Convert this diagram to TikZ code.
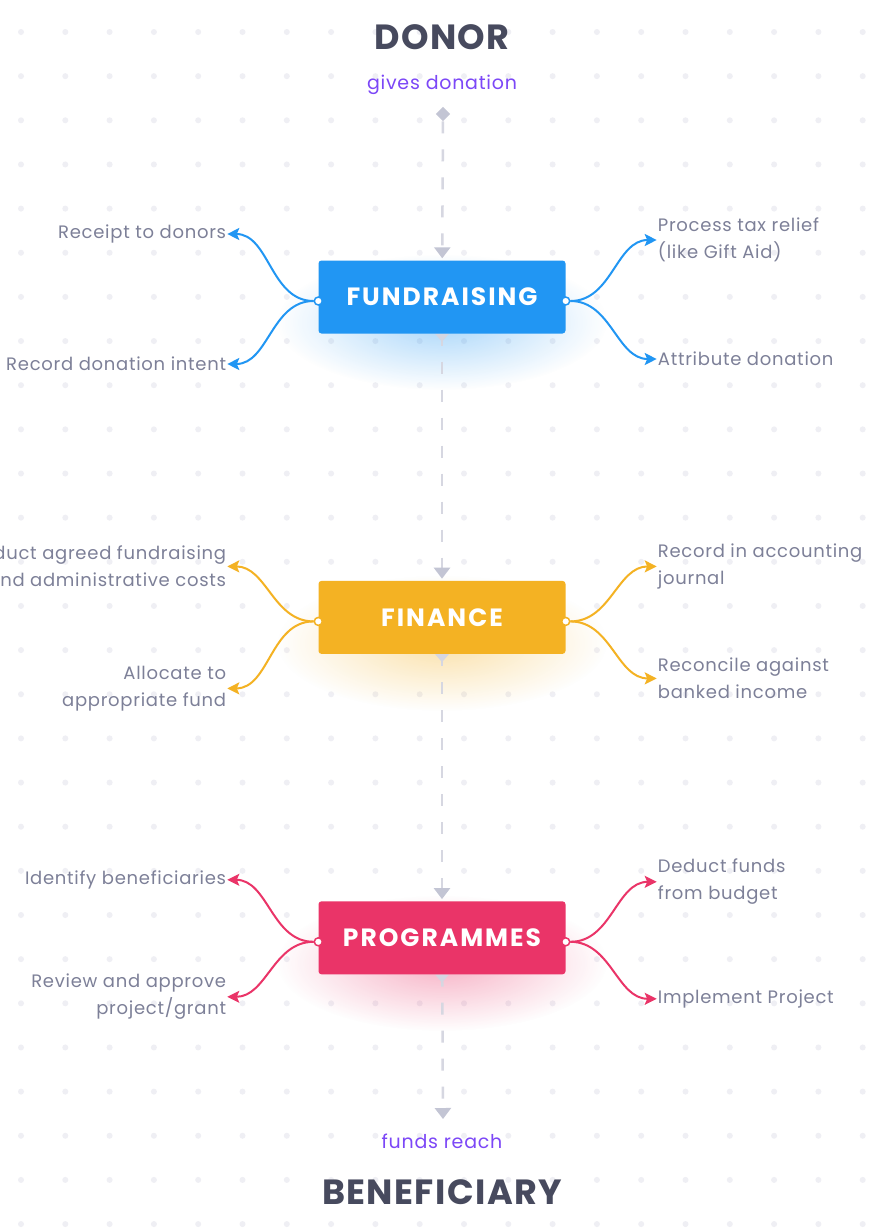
\documentclass[tikz,border=0pt]{standalone}
\usepackage{fontspec}
\setmainfont{Poppins}
\newfontfamily\widefont[LetterSpace=8]{Poppins}
\newfontfamily\spacedfont[LetterSpace=4]{Poppins}
\usetikzlibrary{arrows,arrows.meta,positioning,fadings,backgrounds}

\definecolor{fundblue}{HTML}{2196F3}
\definecolor{finamber}{HTML}{F4B223}
\definecolor{progpink}{HTML}{EA3468}
\definecolor{titlegray}{HTML}{474A5E}
\definecolor{labelgray}{HTML}{7D8098}
\definecolor{flowpurple}{HTML}{7C47F7}
\definecolor{flowgray}{HTML}{D6D7E1}
\definecolor{tipgray}{HTML}{C3C5D4}
\definecolor{dotgray}{HTML}{EFEFF4}

\tikzfading[name=glowfade, inner color=transparent!62, outer color=transparent!100]

\begin{document}
\begin{tikzpicture}[x=1pt,y=-1pt,>={Stealth[length=12pt,width=12pt,inset=2.5pt]},
    every node/.style={inner sep=0pt},
    stage/.style={rectangle,rounded corners=3pt,minimum width=247pt,
                  minimum height=73pt,text=white,
                  font=\widefont\fontsize{25}{25}\selectfont\bfseries},
    actor/.style={text=titlegray,font=\spacedfont\fontsize{35}{35}\selectfont\bfseries},
    flowtext/.style={text=flowpurple,font=\spacedfont\fontsize{19}{19}\selectfont},
    task/.style={text=labelgray,font=\spacedfont\fontsize{18}{27}\selectfont},
    branch/.style={->,line width=2pt,shorten >=1pt},
    flow/.style={draw=flowgray,line width=2.5pt,dash pattern=on 12pt off 16pt,
                 -{Triangle[width=16pt,length=11pt,color=tipgray]},shorten >=2pt},
    port/.style={circle,fill=white,line width=1.5pt,minimum size=8pt}]
  \useasboundingbox (0,0) rectangle (886,1229);

  \node[actor]    (donor) at (442,37)  {DONOR};
  \node[flowtext] (gives) at (442,85)  {gives donation};
  \node[fill=tipgray,minimum size=10pt,rotate=45] (start) at (443,114) {};

  \node[stage,fill=fundblue]                     (fund) at (442,297) {FUNDRAISING};
  \node[stage,fill=finamber,below=247pt of fund] (fin)                {FINANCE};
  \node[stage,fill=progpink,below=247pt of fin]  (prog)               {PROGRAMMES};

  \coordinate (end) at (443,1121);
  \node[flowtext] (reach) at (442,1141) {funds reach};
  \node[actor]    (benef) at (442,1192) {BENEFICIARY};

  % ports on the boxes
  \node[port,draw=fundblue] (fundL) at ([yshift=-4pt]fund.west) {};
  \node[port,draw=fundblue] (fundR) at ([yshift=-4pt]fund.east) {};
  \node[port,draw=finamber] (finL)  at ([yshift=-4pt]fin.west)  {};
  \node[port,draw=finamber] (finR)  at ([yshift=-4pt]fin.east)  {};
  \node[port,draw=progpink] (progL) at ([yshift=-4pt]prog.west) {};
  \node[port,draw=progpink] (progR) at ([yshift=-4pt]prog.east) {};

  % fundraising tasks
  \node[task,anchor=east,align=right] (receipt)   at ([shift={(-92,-67)}]fundL.center) {Receipt to donors};
  \node[task,anchor=east,align=right] (intent)    at ([shift={(-92,63)}]fundL.center)  {Record donation intent};
  \node[task,anchor=west,align=left]  (taxrelief) at ([shift={(92,-61)}]fundR.center)  {Process tax relief\\(like Gift Aid)};
  \node[task,anchor=west,align=left]  (attribute) at ([shift={(92,58)}]fundR.center)   {Attribute donation};

  % finance tasks
  \node[task,anchor=east,align=right] (deduct)    at ([shift={(-92,-55)}]finL.center) {Deduct agreed fundraising\\and administrative costs};
  \node[task,anchor=east,align=right] (allocate)  at ([shift={(-92,67)}]finL.center)  {Allocate to\\appropriate fund};
  \node[task,anchor=west,align=left]  (journal)   at ([shift={(92,-55)}]finR.center)  {Record in accounting\\journal};
  \node[task,anchor=west,align=left]  (reconcile) at ([shift={(92,57)}]finR.center)   {Reconcile against\\banked income};

  % programme tasks
  \node[task,anchor=east,align=right] (identify)  at ([shift={(-92,-62)}]progL.center) {Identify beneficiaries};
  \node[task,anchor=east,align=right] (review)    at ([shift={(-92,55)}]progL.center)  {Review and approve\\project/grant};
  \node[task,anchor=west,align=left]  (budget)    at ([shift={(92,-60)}]progR.center)  {Deduct funds\\from budget};
  \node[task,anchor=west,align=left]  (implement) at ([shift={(92,57)}]progR.center)   {Implement Project};

  \path[branch,fundblue] (fundL) edge[out=180,in=0] (receipt.east)
                                 edge[out=180,in=0] (intent.east)
                         (fundR) edge[out=0,in=180] (taxrelief.west)
                                 edge[out=0,in=180] (attribute.west);
  \path[branch,finamber] (finL)  edge[out=180,in=0] (deduct.east)
                                 edge[out=180,in=0] (allocate.east)
                         (finR)  edge[out=0,in=180] (journal.west)
                                 edge[out=0,in=180] (reconcile.west);
  \path[branch,progpink] (progL) edge[out=180,in=0] (identify.east)
                                 edge[out=180,in=0] (review.east)
                         (progR) edge[out=0,in=180] (budget.west)
                                 edge[out=0,in=180] (implement.west);

  % main flow
  \begin{pgfonlayer}{background}
    \fill[white] (0,0) rectangle (886,1229);
    \foreach \i in {0,...,19}
      \foreach \j in {0,...,27}
        \fill[dotgray] ({21+44.3*\i},{32+44.15*\j}) circle (3pt);
    \fill[fundblue,path fading=glowfade] (442,322) ellipse (165 and 68);
    \fill[finamber,path fading=glowfade] (442,643) ellipse (165 and 68);
    \fill[progpink,path fading=glowfade] (442,963) ellipse (165 and 68);
    \draw[flow] (start) -- (fund);
    \draw[flow] (fund) -- (fin);
    \draw[flow] (fin) -- (prog);
    \draw[flow] (prog) -- (end);
    \foreach \b in {fund,fin,prog}
      \fill[tipgray!70] ([xshift=-7pt]\b.south) -- ([xshift=7pt]\b.south)
                        -- ([yshift=-8pt]\b.south) -- cycle;
  \end{pgfonlayer}
\end{tikzpicture}
\end{document}
